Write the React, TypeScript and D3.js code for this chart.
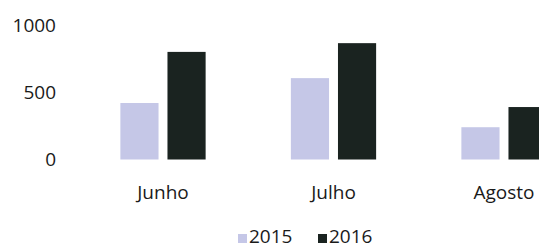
import React from "react";
import * as d3 from "d3";

const categories = ["Junho", "Julho", "Agosto"];
const seriesNames = ["2015", "2016"];
const values2015 = [420, 605, 240];
const values2016 = [800, 865, 390];
const yTicks = [0, 500, 1000];

const colors: Record<string, string> = { "2015": "#c5c7e7", "2016": "#1a2320" };

export default function App() {
  const width = 539;
  const height = 248;
  const font = "'Open Sans', 'Liberation Sans', sans-serif";

  const y = d3.scaleLinear().domain([0, 1000]).range([159.5, 25]);
  const x0 = d3
    .scaleBand<string>()
    .domain(categories)
    .range([77.75, 589.25])
    .paddingInner(0.5)
    .paddingOuter(0.25);
  const x1 = d3
    .scaleBand<string>()
    .domain(seriesNames)
    .range([0, x0.bandwidth()])
    .paddingInner(0.19);

  const data = categories.map((c, i) => ({
    cat: c,
    vals: [
      { s: "2015", v: values2015[i] },
      { s: "2016", v: values2016[i] },
    ],
  }));

  return (
    <svg
      width={width}
      height={height}
      style={{ position: "absolute", left: 0, top: 0, background: "#fff" }}
    >
      <rect width={width} height={height} fill="#fff" />
      {yTicks.map((t) => (
        <text
          key={t}
          x={56}
          y={y(t)}
          dy="0.36em"
          textAnchor="end"
          fontFamily={font}
          fontSize={19}
          fill="#1a1a1a"
        >
          {t}
        </text>
      ))}
      {data.map((d) => (
        <g key={d.cat} transform={`translate(${x0(d.cat)},0)`}>
          {d.vals.map((b) => (
            <rect
              key={b.s}
              x={x1(b.s)}
              y={y(b.v)}
              width={x1.bandwidth()}
              height={y(0) - y(b.v)}
              fill={colors[b.s]}
            />
          ))}
          <text
            x={x0.bandwidth() / 2}
            y={192}
            dy="0.36em"
            textAnchor="middle"
            fontFamily={font}
            fontSize={19}
            fill="#1a1a1a"
          >
            {d.cat}
          </text>
        </g>
      ))}
      {seriesNames.map((s, i) => {
        const lx = 238 + i * 80;
        return (
          <g key={s}>
            <rect x={lx} y={234} width={9} height={9} fill={colors[s]} />
            <text
              x={lx + 11}
              y={243}
              fontFamily={font}
              fontSize={19}
              fill="#1a1a1a"
            >
              {s}
            </text>
          </g>
        );
      })}
    </svg>
  );
}
